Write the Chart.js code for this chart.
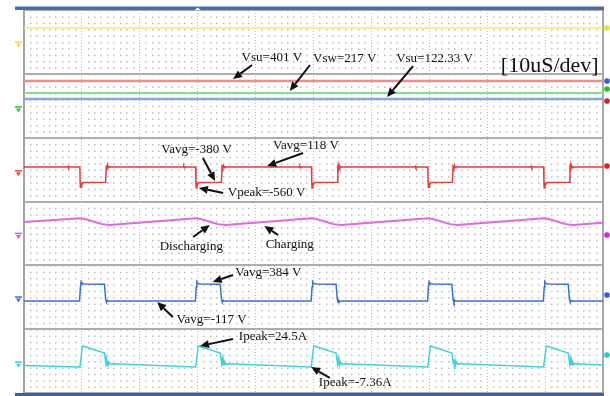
<!DOCTYPE html>
<html><head><meta charset="utf-8">
<script src="https://cdn.jsdelivr.net/npm/chart.js@4.4.1/dist/chart.umd.min.js"></script>
<style>html,body{margin:0;padding:0;background:#fff;}#wrap{width:610px;height:396px;}</style>
</head><body><div id="wrap"><canvas id="c" width="610" height="396"></canvas></div>
<script>
// ---- data (time in µs, 10 µs/div) ----
const ch1Level = [[0, 13.9], [100, 13.9]];
const vsuHigh = [[0, 401], [100, 401]];
const vswLevel = [[0, 217], [100, 217]];
const vsuLow = [[0, 122.33], [100, 122.33]];

const vSwitch = [
 [0,118],[7.5,118],[7.6,145],[7.7,95],[7.8,118],
 [9.65,118],[9.7,-380],[9.75,-560],[9.85,-430],[9.95,-470],[10.1,-395],[10.4,-380],[14.1,-372],
 [14.2,118],[14.25,185],[14.35,70],[14.45,160],[14.55,95],[14.7,130],[14.9,118],
 [27.5,118],[27.6,145],[27.7,95],[27.8,118],
 [29.65,118],[29.7,-380],[29.75,-560],[29.85,-430],[29.95,-470],[30.1,-395],[30.4,-380],[34.1,-372],
 [34.2,118],[34.25,185],[34.35,70],[34.45,160],[34.55,95],[34.7,130],[34.9,118],
 [47.5,118],[47.6,145],[47.7,95],[47.8,118],
 [49.65,118],[49.7,-380],[49.75,-560],[49.85,-430],[49.95,-470],[50.1,-395],[50.4,-380],[54.1,-372],
 [54.2,118],[54.25,185],[54.35,70],[54.45,160],[54.55,95],[54.7,130],[54.9,118],
 [67.5,118],[67.6,145],[67.7,95],[67.8,118],
 [69.75,118],[69.8,-380],[69.85,-560],[69.95,-430],[70.05,-470],[70.2,-395],[70.5,-380],[74.0,-372],
 [74.1,118],[74.15,185],[74.25,70],[74.35,160],[74.45,95],[74.6,130],[74.8,118],
 [87.5,118],[87.6,145],[87.7,95],[87.8,118],
 [89.75,118],[89.8,-380],[89.85,-560],[89.95,-430],[90.05,-470],[90.2,-395],[90.5,-380],[94.2,-372],
 [94.3,118],[94.35,185],[94.45,70],[94.55,160],[94.65,95],[94.8,130],[95.0,118],
 [100,118]
];

const capVoltage = [
 [0,11.4],
 [9.7,15.1],[10.5,14.5],[11.5,12.8],[12.5,10.9],[13.5,9.3],[14.8,8.4],
 [29.7,15.1],[30.5,14.5],[31.5,12.8],[32.5,10.9],[33.5,9.3],[34.8,8.4],
 [49.7,15.1],[50.5,14.5],[51.5,12.8],[52.5,10.9],[53.5,9.3],[54.8,8.4],
 [69.8,15.1],[70.6,14.5],[71.6,12.8],[72.6,10.9],[73.6,9.3],[74.8,8.4],
 [89.8,15.1],[90.6,14.5],[91.6,12.8],[92.6,10.9],[93.6,9.3],[94.8,8.4],
 [100,10.7]
];

const vDrain = [
 [0,-117],
 [9.6,-117],[9.75,300],[9.85,450],[10.0,405],[10.2,395],[10.6,384],[13.9,378],[14.1,-60],[14.25,-160],[14.4,-100],[14.6,-125],[14.8,-117],
 [29.6,-117],[29.75,300],[29.85,450],[30.0,405],[30.2,395],[30.6,384],[33.9,378],[34.1,-60],[34.25,-160],[34.4,-100],[34.6,-125],[34.8,-117],
 [49.6,-117],[49.75,300],[49.85,450],[50.0,405],[50.2,395],[50.6,384],[53.9,378],[54.1,-60],[54.25,-160],[54.4,-100],[54.6,-125],[54.8,-117],
 [69.7,-117],[69.85,300],[69.95,450],[70.1,405],[70.3,395],[70.7,384],[73.9,378],[74.1,-60],[74.25,-160],[74.4,-100],[74.6,-125],[74.8,-117],
 [89.7,-117],[89.85,300],[89.95,450],[90.1,405],[90.3,395],[90.7,384],[94.0,378],[94.2,-60],[94.35,-160],[94.5,-100],[94.7,-125],[94.9,-117],
 [100,-117]
];

const iInductor = [
 [0,-5.2],
 [9.65,-7.2],[10.1,24.5],[10.4,23.6],[13.9,13.7],[14.15,-2],[14.25,4],[14.35,-5],[14.45,2],[14.55,-4],[14.7,0],[14.9,-3],[15.3,-2.6],
 [29.65,-7.2],[30.1,24.5],[30.4,23.6],[33.9,13.7],[34.15,-2],[34.25,4],[34.35,-5],[34.45,2],[34.55,-4],[34.7,0],[34.9,-3],[35.3,-2.6],
 [49.6,-7.2],[50.05,24.5],[50.35,23.6],[53.9,13.7],[54.15,-2],[54.25,4],[54.35,-5],[54.45,2],[54.55,-4],[54.7,0],[54.9,-3],[55.3,-2.6],
 [69.75,-7.2],[70.2,24.5],[70.5,23.6],[73.9,13.7],[74.15,-2],[74.25,4],[74.35,-5],[74.45,2],[74.55,-4],[74.7,0],[74.9,-3],[75.3,-2.6],
 [89.75,-7.2],[90.2,24.5],[90.5,23.6],[94.0,13.7],[94.25,-2],[94.35,4],[94.45,-5],[94.55,2],[94.65,-4],[94.8,0],[95.0,-3],[95.4,-2.6],
 [100,-4.2]
];

// annotation texts, anchored in data units of a panel axis
const annotations = [
 {axis:'y2', text:'Vsu=401 V',    at:[42.8,758],  from:[39.4,650],  to:[36.1,433]},
 {axis:'y2', text:'Vsw=217 V',    at:[55.4,742],  from:[49.4,650],  to:[45.9,247]},
 {axis:'y2', text:'Vsu=122.33 V', at:[70.9,742],  from:[67.2,634],  to:[62.7,154]},
 {axis:'y2', text:'[10uS/dev]',   at:[90.8,634],  big:true},
 {axis:'y3', text:'Vavg=-380 V',  at:[29.8,674],  from:[30.9,414],  to:[33.0,-334]},
 {axis:'y3', text:'Vavg=118 V',   at:[48.7,804],  from:[48.2,577],  to:[42.0,154]},
 {axis:'y3', text:'Vpeak=-560 V', at:[41.9,-695], from:[34.4,-725], to:[30.2,-562]},
 {axis:'y4', text:'Discharging',  at:[28.9,-13.6],from:[29.2,-3.6], to:[32.1,8.4]},
 {axis:'y4', text:'Charging',     at:[45.9,-11.6],from:[43.9,-1.6], to:[41.5,7.4]},
 {axis:'y5', text:'Vavg=384 V',   at:[42.2,710],  from:[36.1,651],  to:[32.6,444]},
 {axis:'y5', text:'Vavg=-117 V',  at:[32.4,-677], from:[25.7,-588], to:[23.0,-146]},
 {axis:'y6', text:'Ipeak=24.5A',  at:[43.0,38.1], from:[36.1,35.1], to:[30.4,24.5]},
 {axis:'y6', text:'Ipeak=-7.36A', at:[57.2,-31.6],from:[52.8,-24],  to:[49.6,-7.3]}
];

// scope level indicators (right) and ground references (left)
const levelMarkers = [
 {axis:'y1', v:13.9, c:'#e8e23a'}, {axis:'y2', v:401, c:'#2f62d8'}, {axis:'y2', v:278, c:'#22c022'},
 {axis:'y2', v:92, c:'#e02020'}, {axis:'y3', v:154, c:'#e02020'}, {axis:'y4', v:-1.6, c:'#e020e0'},
 {axis:'y5', v:61, c:'#2f62d8'}, {axis:'y6', v:10.8, c:'#20c8d0'}
];
const groundMarkers = [
 {axis:'y1', c:'#eee040'}, {axis:'y2', c:'#30c830'}, {axis:'y3', c:'#e84a4a'},
 {axis:'y4', c:'#e050e0'}, {axis:'y5', c:'#3a6fd8'}, {axis:'y6', c:'#40d0d0'}
];

const triggerTime = 30;

const toXY = arr => arr.map(p => ({x:p[0], y:p[1]}));

function panelAxis(min, max, weight) {
  return {
    type:'linear', position:'left', stack:'scope', stackWeight:1, weight:weight,
    min:min, max:max,
    afterBuildTicks: s => { s.ticks = [{value:min},{value:max}]; },
    afterFit: s => { s.width = 0; },
    ticks:{display:false},
    grid:{color:'#adadad', lineWidth:2, drawTicks:false},
    border:{display:true, color:'#a4a4a4', width:2}
  };
}

const decor = {
  id:'decor',
  afterDraw(chart) {
    const ctx = chart.ctx, a = chart.chartArea, xs = chart.scales.x;
    ctx.save();
    ctx.fillStyle = '#4a6bb2';
    ctx.fillRect(15, a.top - 3.5, a.right - 15 + 1, 3.5);
    ctx.fillStyle = '#3d5fa9';
    ctx.fillRect(15, a.bottom, a.right - 15 + 1, 3);
    const tx = xs.getPixelForValue(triggerTime);
    ctx.fillStyle = '#ffffff';
    ctx.beginPath(); ctx.moveTo(tx - 3, a.top); ctx.lineTo(tx + 3, a.top); ctx.lineTo(tx, a.top - 2.5); ctx.closePath(); ctx.fill();
    groundMarkers.forEach(g => {
      const y = chart.scales[g.axis].getPixelForValue(0);
      ctx.fillStyle = g.c; ctx.strokeStyle = g.c; ctx.lineWidth = 1.5;
      ctx.beginPath(); ctx.moveTo(15, y); ctx.lineTo(22, y); ctx.stroke();
      ctx.beginPath(); ctx.moveTo(16, y + 1.5); ctx.lineTo(21, y + 1.5); ctx.lineTo(18.5, y + 5.5); ctx.closePath(); ctx.fill();
    });
    levelMarkers.forEach(m => {
      const y = chart.scales[m.axis].getPixelForValue(m.v);
      ctx.fillStyle = m.c;
      ctx.beginPath(); ctx.arc(a.right + 4, y, 2.8, 0, Math.PI * 2); ctx.fill();
    });
    ctx.textAlign = 'center'; ctx.textBaseline = 'middle';
    annotations.forEach(n => {
      const ys = chart.scales[n.axis];
      ctx.fillStyle = '#111';
      ctx.font = n.big ? '22px "Liberation Serif"' : '13px "Liberation Serif"';
      ctx.fillText(n.text, xs.getPixelForValue(n.at[0]), ys.getPixelForValue(n.at[1]));
      if (n.from) {
        const x1 = xs.getPixelForValue(n.from[0]), y1 = ys.getPixelForValue(n.from[1]);
        const x2 = xs.getPixelForValue(n.to[0]), y2 = ys.getPixelForValue(n.to[1]);
        const ang = Math.atan2(y2 - y1, x2 - x1), L = 9, W = 4;
        const bx = x2 - L * Math.cos(ang), by = y2 - L * Math.sin(ang);
        ctx.strokeStyle = '#111'; ctx.lineWidth = 2;
        ctx.beginPath(); ctx.moveTo(x1, y1); ctx.lineTo(bx, by); ctx.stroke();
        ctx.beginPath();
        ctx.moveTo(x2, y2);
        ctx.lineTo(bx + W * Math.sin(ang), by - W * Math.cos(ang));
        ctx.lineTo(bx - W * Math.sin(ang), by + W * Math.cos(ang));
        ctx.closePath(); ctx.fill();
      }
    });
    ctx.restore();
  }
};

function ds(data, axis, color, width) {
  return {data:toXY(data), yAxisID:axis, borderColor:color, borderWidth:width, pointRadius:0, tension:0, fill:false};
}

new Chart(document.getElementById('c'), {
  type:'line',
  data:{datasets:[
    ds(ch1Level, 'y1', '#f2ec72', 1.5),
    ds(vsuHigh, 'y2', '#f08c8c', 2.5),
    ds(vswLevel, 'y2', '#84e284', 2),
    ds(vsuLow, 'y2', '#84a8ea', 2.5),
    ds(vSwitch, 'y3', '#ea3a3a', 1.5),
    ds(capVoltage, 'y4', '#e068e0', 2),
    ds(vDrain, 'y5', '#3a6fd8', 1.5),
    ds(iInductor, 'y6', '#40d4d8', 1.5)
  ]},
  options:{
    responsive:false, animation:false, devicePixelRatio:1, events:[],
    layout:{padding:{left:24, top:10, right:7, bottom:3}},
    plugins:{legend:{display:false}, tooltip:{enabled:false}},
    scales:{
      x:{
        type:'linear', min:0, max:100,
        afterBuildTicks: s => { const t = []; for (let i = 0; i <= 90; i++) t.push({value:i * 10 / 9}); s.ticks = t; },
        afterFit: s => { s.height = 0; },
        ticks:{display:false},
        grid:{
          drawTicks:false,
          color: c => { const i = c.index; if (i === 0) return 'rgba(0,0,0,0)'; if (i === 90) return '#a8a8a8'; return i % 9 === 0 ? '#b8b8b8' : '#bdbdbd'; },
          lineWidth: c => c.index === 90 ? 2 : (c.index % 9 === 0 ? 1 : 1.5)
        },
        border:{display:false, dash: c => c.index === 90 ? [] : (c.index % 9 === 0 ? [1, 2] : [1.5, 4.883])}
      },
      y1: panelAxis(-32, 32, 6),
      y2: panelAxis(-476, 513, 5),
      y3: panelAxis(-1000, 1075, 4),
      y4: panelAxis(-32, 32, 3),
      y5: panelAxis(-947, 936, 2),
      y6: panelAxis(-46.8, 50, 1)
    }
  },
  plugins:[decor]
});
</script></body></html>
